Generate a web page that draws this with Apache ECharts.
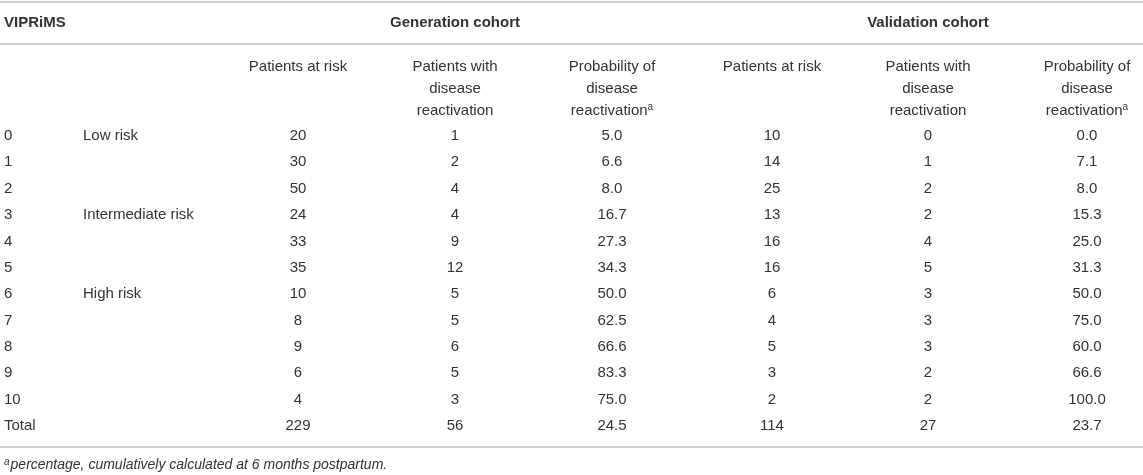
<!DOCTYPE html>
<html>
<head>
<meta charset="utf-8">
<title>VIPRiMS</title>
<script src="https://cdn.jsdelivr.net/npm/echarts@6/dist/echarts.min.js"></script>
<style>
  html, body { margin: 0; padding: 0; background: #fff; }
  #main { width: 1143px; height: 475px; }
</style>
</head>
<body>
<div id="main"></div>
<script>
// table content
const scores = ["0", "1", "2", "3", "4", "5", "6", "7", "8", "9", "10", "Total"];
const riskGroups = ["Low risk", "", "", "Intermediate risk", "", "", "High risk", "", "", "", "", ""];
const genAtRisk = [20, 30, 50, 24, 33, 35, 10, 8, 9, 6, 4, 229];
const genReactivated = [1, 2, 4, 4, 9, 12, 5, 5, 6, 5, 3, 56];
const genProbability = [5.0, 6.6, 8.0, 16.7, 27.3, 34.3, 50.0, 62.5, 66.6, 83.3, 75.0, 24.5];
const valAtRisk = [10, 14, 25, 13, 16, 16, 6, 4, 5, 3, 2, 114];
const valReactivated = [0, 1, 2, 2, 4, 5, 3, 3, 3, 2, 2, 27];
const valProbability = [0.0, 7.1, 8.0, 15.3, 25.0, 31.3, 50.0, 75.0, 60.0, 66.6, 100.0, 23.7];
const cohortTitles = ["Generation cohort", "Validation cohort"];
const columnTitles = [
  "Patients at risk",
  "Patients with\ndisease\nreactivation",
  "Probability of\ndisease\nreactivation{sup|a}"
];
const footnote = "{fsup|a}{it|percentage, cumulatively calculated at 6 months postpartum.}";

// layout
const W = 1143, H = 475;
const colScore = 4, colGroup = 83;
const genCols = [298, 455, 612];
const valCols = [772, 928, 1087];
const row0 = 136, rowStep = 26.35;
const titleY = 23, colTitleY = 56, ruleYs = [2, 44, 447], footY = 465;
const ink = "#333";
const font = "Liberation Sans, Arial, sans-serif";
const fs = 15;

// build cell list
const cells = [];
cells.push({ x: colScore, y: titleY, text: "VIPRiMS", align: "left", bold: true });
cohortTitles.forEach((t, i) => {
  cells.push({ x: (i === 0 ? genCols : valCols)[1], y: titleY, text: t, align: "center", bold: true });
});
[genCols, valCols].forEach((cols) => {
  cols.forEach((x, j) => {
    cells.push({ x: x, y: colTitleY, text: columnTitles[j], align: "center", top: true });
  });
});
scores.forEach((s, i) => {
  const y = row0 + rowStep * i;
  cells.push({ x: colScore, y: y, text: s, align: "left" });
  if (riskGroups[i]) cells.push({ x: colGroup, y: y, text: riskGroups[i], align: "left" });
  const gen = [genAtRisk[i], genReactivated[i], genProbability[i].toFixed(1)];
  const val = [valAtRisk[i], valReactivated[i], valProbability[i].toFixed(1)];
  gen.forEach((v, j) => cells.push({ x: genCols[j], y: y, text: String(v), align: "center" }));
  val.forEach((v, j) => cells.push({ x: valCols[j], y: y, text: String(v), align: "center" }));
});
cells.push({ x: colScore, y: footY, text: footnote, align: "left" });

const rich = {
  sup: { fontSize: 10, lineHeight: 10, fontFamily: font, fill: ink, verticalAlign: "top", padding: [2, 0, 0, 0] },
  fsup: { fontSize: 10, lineHeight: 10, fontFamily: font, fontStyle: "italic", fill: ink, verticalAlign: "top", padding: [0, 1, 0, 0] },
  it: { fontSize: 14, lineHeight: 16, fontFamily: font, fontStyle: "italic", fill: ink }
};

let myChart = echarts.init(document.getElementById("main"), null, { renderer: "canvas" });

let options = {
  animation: false,
  grid: { left: 0, right: 0, top: 0, bottom: 0 },
  xAxis: { type: "value", min: 0, max: W, show: false },
  yAxis: { type: "value", min: 0, max: H, inverse: true, show: false },
  series: [
    {
      // horizontal rules
      type: "custom",
      data: ruleYs.map((y) => [0, y]),
      renderItem: (params, api) => {
        const a = api.coord([0, api.value(1)]);
        const b = api.coord([W, api.value(1)]);
        return {
          type: "line",
          shape: { x1: a[0], y1: a[1], x2: b[0], y2: b[1] },
          style: { stroke: "#c2c2c2", lineWidth: 1.6 }
        };
      }
    },
    {
      // cell texts
      type: "custom",
      data: cells.map((c) => [c.x, c.y]),
      renderItem: (params, api) => {
        const c = cells[params.dataIndex];
        const p = api.coord([api.value(0), api.value(1)]);
        return {
          type: "text",
          x: p[0],
          y: p[1],
          style: {
            text: c.text,
            fontSize: fs,
            fontFamily: font,
            fontWeight: c.bold ? "bold" : "normal",
            fill: ink,
            align: c.align,
            verticalAlign: c.top ? "top" : "middle",
            lineHeight: c.top ? 22 : 17,
            rich: rich
          }
        };
      }
    }
  ]
};

myChart.setOption(options);
</script>
</body>
</html>
